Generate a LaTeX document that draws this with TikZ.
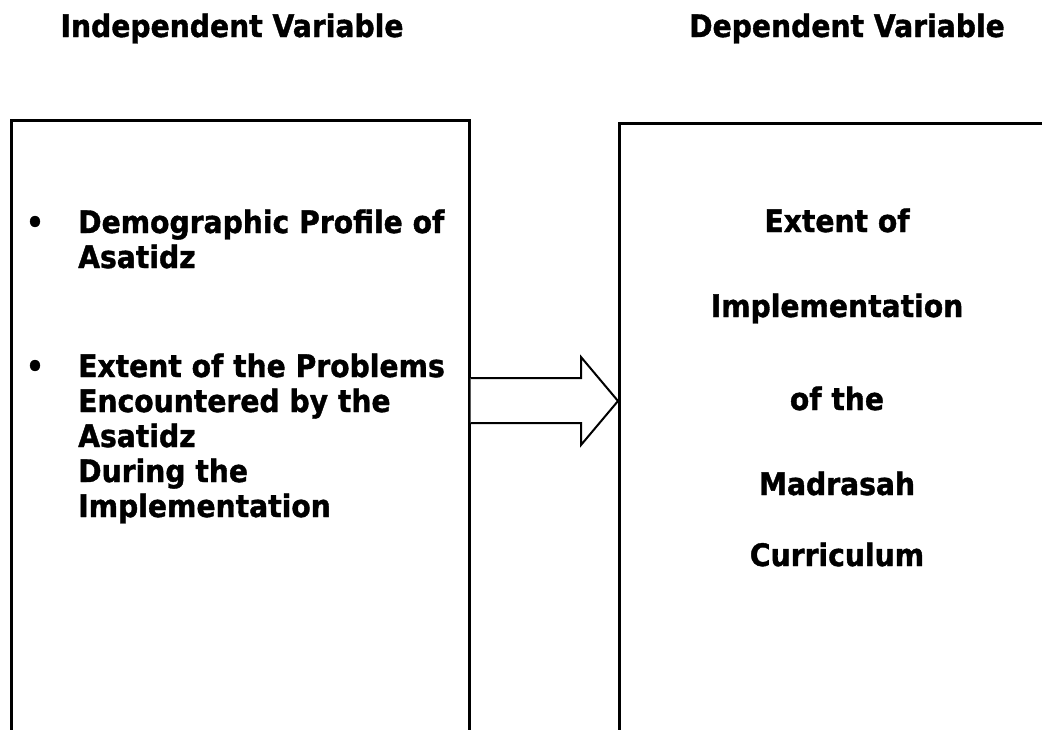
\documentclass[tikz,border=0pt]{standalone}
\usepackage{fontspec}
\setmainfont{DejaVu Sans}[BoldFeatures={FakeStretch=0.91,FakeBold=1.2}]
\begin{document}
\begin{tikzpicture}[x=1pt,y=-1pt,
  txt/.style={inner sep=0pt,font=\fontsize{31}{35}\selectfont\bfseries},
  boxframe/.style={draw=black,line width=2.5pt,rectangle,inner sep=0pt},
  blockarrow/.style={draw=black,line width=2pt,fill=white,line join=miter}]
\useasboundingbox (0,0) rectangle (1042,729);
\clip (0,0) rectangle (1042,729);
% headers
\node[txt,anchor=base] (hind) at (232,37) {Independent Variable};
\node[txt,anchor=base] (hdep) at (847,37) {Dependent Variable};
% boxes (open past the bottom edge)
\node[boxframe,minimum width=458pt,minimum height=660pt,anchor=north west] (left) at (10,119) {};
\node[boxframe,minimum width=460pt,minimum height=660pt,anchor=north west] (right) at (618,122) {};
% arrow from left box to right box
\coordinate (as1) at (left.east |- 0,378);
\coordinate (as2) at (left.east |- 0,423);
\coordinate (tip) at (right.west |- 0,401);
\draw[blockarrow] (as1) -- (581,378) -- (581,357) -- (tip) -- (581,445) -- (581,423) -- (as2);
% left bullets
\node[txt,anchor=base] (b1) at (35,233) {\textbullet};
\node[txt,anchor=base west] (l1) at (78,233) {Demographic Profile of};
\node[txt,anchor=base west] (l2) at (78,268) {Asatidz};
\node[txt,anchor=base] (b2) at (35,377) {\textbullet};
\node[txt,anchor=base west] (l3) at (78,377) {Extent of the Problems};
\node[txt,anchor=base west] (l4) at (78,412) {Encountered by the};
\node[txt,anchor=base west] (l5) at (78,447) {Asatidz};
\node[txt,anchor=base west] (l6) at (78,482) {During the};
\node[txt,anchor=base west] (l7) at (78,517) {Implementation};
% right text
\node[txt,anchor=base] (r1) at (837,232) {Extent of};
\node[txt,anchor=base] (r2) at (837,317) {Implementation};
\node[txt,anchor=base] (r3) at (837,410) {of the};
\node[txt,anchor=base] (r4) at (837,495) {Madrasah};
\node[txt,anchor=base] (r5) at (837,566) {Curriculum};
\end{tikzpicture}
\end{document}
